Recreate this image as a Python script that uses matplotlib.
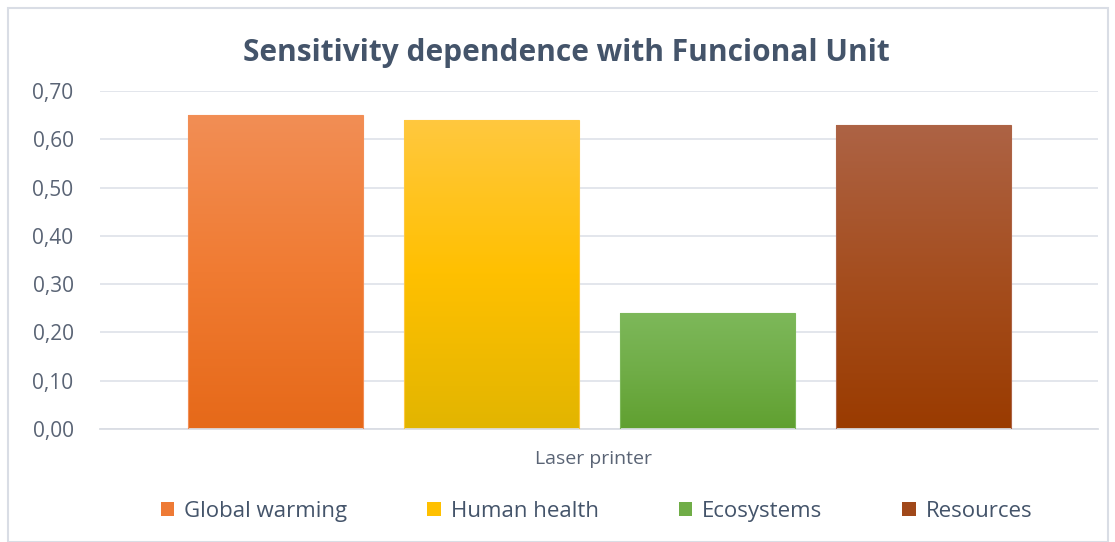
import numpy as np
import matplotlib.pyplot as plt
from matplotlib.colors import LinearSegmentedColormap
from matplotlib.patches import Rectangle, Patch

# data
categories = ['Global warming', 'Human health', 'Ecosystems', 'Resources']
values = [0.65, 0.64, 0.24, 0.63]
group_label = 'Laser printer'
# gradient colours (top, middle, bottom) per bar
top_colors = ['#F28E55', '#FFC83F', '#7DB85A', '#AD6345']
mid_colors = ['#F07B32', '#FFC000', '#70AD47', '#A54E1F']
bottom_colors = ['#E66919', '#E2B500', '#60A030', '#9A3B00']
legend_colors = ['#EE7A35', '#FFC000', '#70AD47', '#A0481A']

plt.rcParams['font.family'] = ['Open Sans', 'DejaVu Sans']

fig = plt.figure(figsize=(11.15, 5.42), dpi=100)
ax = fig.add_axes([100/1115, 113/542, 998/1115, 338/542])

width = 0.806
x = np.arange(len(values))
for i, v in enumerate(values):
    bar = ax.bar(x[i], v, width=width, color='none',
                 edgecolor=top_colors[i], linewidth=0.8, zorder=3)[0]
    cmap = LinearSegmentedColormap.from_list(
        'g', [bottom_colors[i], mid_colors[i], top_colors[i]])
    grad = np.linspace(0, 1, 256).reshape(-1, 1)
    im = ax.imshow(grad, cmap=cmap, origin='lower', aspect='auto',
                   extent=[x[i] - width/2, x[i] + width/2, 0, v], zorder=2)
    im.set_clip_path(bar)

ax.set_xlim(-0.8125, 3.808)
ax.set_ylim(0, 0.7)
ax.set_yticks(np.arange(0, 0.71, 0.1))
ax.set_yticklabels([f'{t:.2f}'.replace('.', ',') for t in np.arange(0, 0.71, 0.1)])
ax.set_xticks([])
ax.grid(axis='y', color='#E1E4EA', linewidth=1.3, zorder=0)
for s in ['top', 'right', 'left']:
    ax.spines[s].set_visible(False)
ax.spines['bottom'].set_color('#DADDE4')
ax.spines['bottom'].set_linewidth(1.3)
ax.tick_params(axis='y', length=0, pad=19, labelsize=15, labelcolor='#5A6475')

ax.text(0.494, -0.09, group_label, transform=ax.transAxes, ha='center',
        va='center', fontsize=14, color='#5A6475')

fig.text(0.508, 0.902, 'Sensitivity dependence with Funcional Unit', ha='center',
         va='center', fontsize=21.5, fontweight='bold', color='#44546A')

handles = [Patch(facecolor=c, edgecolor='none') for c in legend_colors]
fig.legend(handles, categories, loc='center', bbox_to_anchor=(0.535, 0.057),
           ncol=4, frameon=False, fontsize=16, handlelength=0.6, handleheight=0.6,
           handletextpad=0.45, columnspacing=3.6, labelcolor='#44546A')

fig.patches.append(Rectangle((8/1115, 0), 1100/1115, 534/542, transform=fig.transFigure,
                             fill=False, edgecolor='#D9DDE5', linewidth=1.5))

fig.savefig('out.png', dpi=100)
